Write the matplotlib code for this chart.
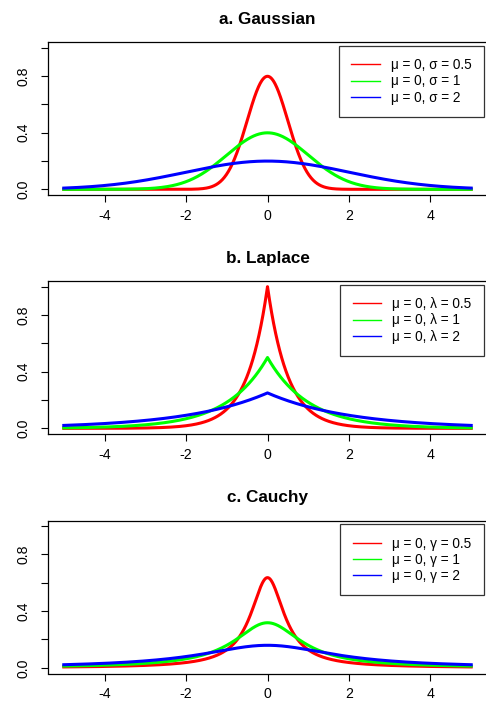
import numpy as np
import matplotlib
matplotlib.use("Agg")
import matplotlib.pyplot as plt

# distribution parameters shown in the legends
mu = [0, 0, 0]
gauss_sigma = [0.5, 1, 2]
laplace_lambda = [0.5, 1, 2]
cauchy_gamma = [0.5, 1, 2]
colors = ["#FF0000", "#00FF00", "#0000FF"]
titles = ["a. Gaussian", "b. Laplace", "c. Cauchy"]
param_names = ["σ", "λ", "γ"]

x = np.linspace(-5, 5, 1001)


def gauss(x, m, s):
    return np.exp(-0.5 * ((x - m) / s) ** 2) / (s * np.sqrt(2 * np.pi))


def laplace(x, m, b):
    return np.exp(-np.abs(x - m) / b) / (2 * b)


def cauchy(x, m, g):
    return 1 / (np.pi * g * (1 + ((x - m) / g) ** 2))


panels = [(gauss, gauss_sigma), (laplace, laplace_lambda), (cauchy, cauchy_gamma)]

plt.rcParams["font.family"] = ["Liberation Sans", "DejaVu Sans"]
fig = plt.figure(figsize=(4.86, 7.09), dpi=100)

W, H = 486.0, 709.0
left = 47.5 / W
width = (487.5 - 47.5) / W
height = 153.0 / H
bottoms = [195.0, 434.0, 673.5]

for i, (func, params) in enumerate(panels):
    ax = fig.add_axes([left, 1 - bottoms[i] / H, width, height])
    for j, p in enumerate(params):
        ax.plot(x, func(x, mu[j], p), color=colors[j], lw=2.2,
                label="μ = %g, %s = %g" % (mu[j], param_names[i], p))
    ax.set_xlim(-5.4, 5.4)
    ax.set_ylim(-0.04, 1.04)
    ax.set_xticks([-4, -2, 0, 2, 4])
    ax.set_xticklabels(["-4", "-2", "0", "2", "4"])
    ax.set_yticks([0, 0.2, 0.4, 0.6, 0.8, 1.0])
    ax.set_yticklabels(["0.0", "", "0.4", "", "0.8", ""], rotation=90, va="center")
    ax.tick_params(direction="out", length=5, width=0.8, labelsize=10.2, color="black")
    ax.tick_params(axis="y", pad=7)
    ax.tick_params(axis="x", pad=5)
    for sp in ax.spines.values():
        sp.set_linewidth(0.9)
    ax.set_title(titles[i], fontsize=12.3, fontweight="bold", pad=13)
    leg = ax.legend(loc="upper right", bbox_to_anchor=(0.991, 0.975),
                    fontsize=9.8, frameon=True, fancybox=False,
                    handlelength=2.1, handletextpad=0.8, labelspacing=0.17,
                    borderpad=0.9, borderaxespad=0)
    leg.get_frame().set_edgecolor("black")
    leg.get_frame().set_linewidth(0.9)
    for line in leg.get_lines():
        line.set_linewidth(1.0)

fig.savefig("out.png", dpi=100)
